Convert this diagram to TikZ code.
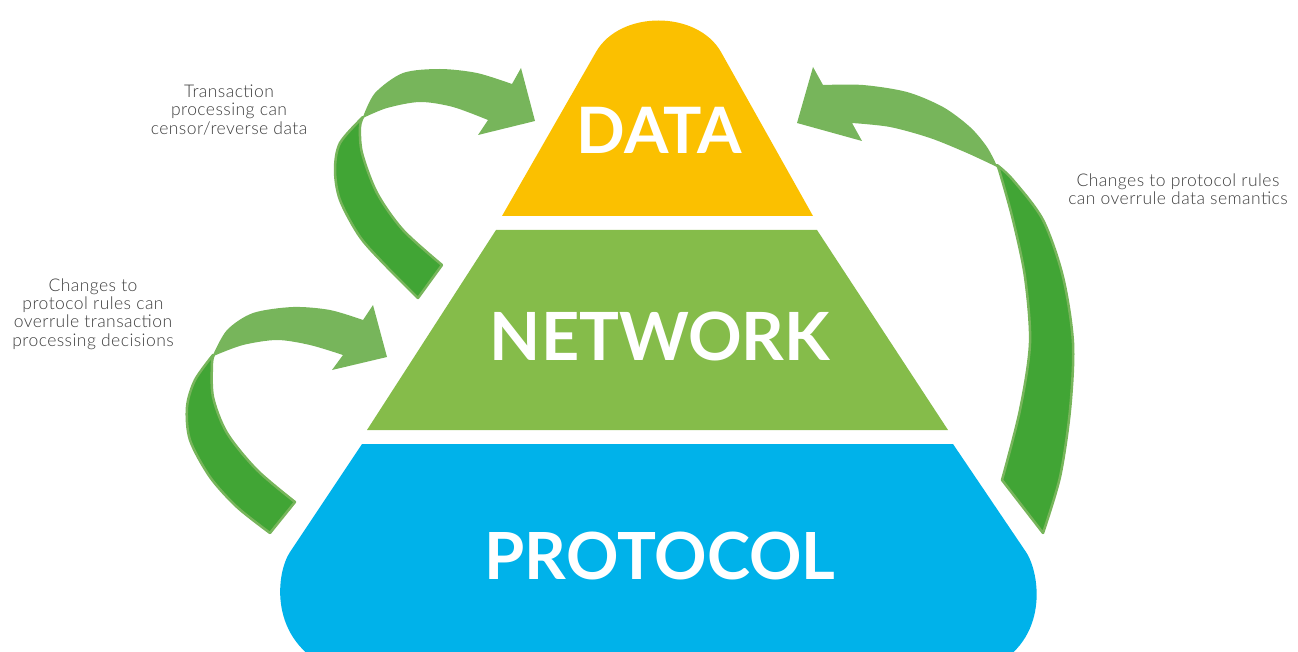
\documentclass[tikz,border=0pt]{standalone}
\usepackage{fontspec}
\setmainfont{Lato}
\IfFontExistsTF{Lato Light}
  {\newfontfamily\lightfont{Lato Light}[LetterSpace=2.5]}
  {\newfontfamily\lightfont{Lato}[LetterSpace=2.5]}
\definecolor{datayellow}{HTML}{FBC000}
\definecolor{netgreen}{HTML}{85BC4A}
\definecolor{protoblue}{HTML}{00B2EA}
\definecolor{arrowdark}{HTML}{41A535}
\definecolor{arrowlight}{HTML}{77B55B}
\definecolor{notegray}{HTML}{3C3C3C}
\begin{document}
\begin{tikzpicture}[x=1pt,y=-1pt,
  bigword/.style={text=white, inner sep=0pt, anchor=base,
    font=\bfseries\fontsize{#1}{#1}\selectfont},
  note/.style={text=notegray, inner sep=0pt, align=center,
    font=\lightfont\fontsize{17.5}{18.3}\selectfont},
  backband/.style={fill=arrowdark, draw=arrowlight, line width=2.5pt, line join=round},
  frontband/.style={fill=arrowlight}]
\useasboundingbox (0,0) rectangle (1298,652);
\clip (0,0) rectangle (1298,652);

% pyramid layers
\fill[datayellow] (502,216) -- (596,52) .. controls (620,10) and (697,10) .. (721,52)
  -- (813,216) -- cycle;
\fill[netgreen] (496,230) -- (817,230) -- (948,430) -- (367,430) -- cycle;
\fill[protoblue] (362,444) -- (953,444) -- (1026,552)
  .. controls (1040,573) and (1050,640) .. (990,668) -- (330,668)
  .. controls (268,640) and (276,573) .. (290,552) -- cycle;

\node[bigword=64] (data) at (659.5,153.3) {DATA};
\node[bigword=66.5] (network) at (660,360) {NETWORK};
\node[bigword=65] (protocol) at (660,579) {PROTOCOL};

% upper left arrow: transaction processing -> data
\path[backband] plot[smooth] coordinates {(363,117) (340,143) (335,170) (340,200) (360,237) (387,267) (418,298)}
  -- plot[smooth] coordinates {(442,265) (403,230) (377,193) (362,153) (360,127) (363,117)} -- cycle;
\path[frontband] plot[smooth] coordinates {(363,117) (375,93) (403,73) (440,69) (477,73) (512,84)}
  -- (521,68) -- (535,121) -- (478,135) -- (488,120)
  -- plot[smooth] coordinates {(488,120) (453,107) (420,102) (387,108) (363,118)} -- cycle;

% lower left arrow: protocol -> network
\path[backband] plot[smooth] coordinates {(213,355) (195,380) (187,407) (190,440) (210,477) (237,507) (270,533)}
  -- plot[smooth] coordinates {(295,502) (257,470) (227,433) (213,397) (212,363) (214,355)} -- cycle;
\path[frontband] plot[smooth] coordinates {(213,355) (227,330) (253,313) (293,307) (330,310) (363,320)}
  -- (373,305) -- (387,357) -- (332,370) -- (343,355)
  -- plot[smooth] coordinates {(343,355) (310,345) (277,340) (243,345) (216,355)} -- cycle;

% right arrow: protocol -> data
\path[backband] plot[smooth] coordinates {(997,165) (1013,180) (1043,220) (1063,277) (1073,343) (1070,410) (1060,477) (1043,533)}
  -- plot[smooth] coordinates {(1002,480) (1020,410) (1030,343) (1025,277) (1013,220) (1000,173) (997,165)} -- cycle;
\path[frontband] plot[smooth] coordinates {(997,166) (987,147) (970,127) (943,107) (907,92) (863,85) (823,85)}
  -- (813,67) -- (797,123) -- (862,141) -- (852,123)
  -- plot[smooth] coordinates {(852,123) (890,127) (930,138) (967,153) (997,167)} -- cycle;

% annotations
\node[note] (censor) at (229,110) {Transaction\\processing can\\censor/reverse data};
\node[note] (overrule) at (93,314) {Changes to\\protocol rules can\\overrule transaction\\processing decisions};
\node[note] (semantics) at (1178,189) {Changes to protocol rules\\can overrule data semantics};
\end{tikzpicture}
\end{document}
